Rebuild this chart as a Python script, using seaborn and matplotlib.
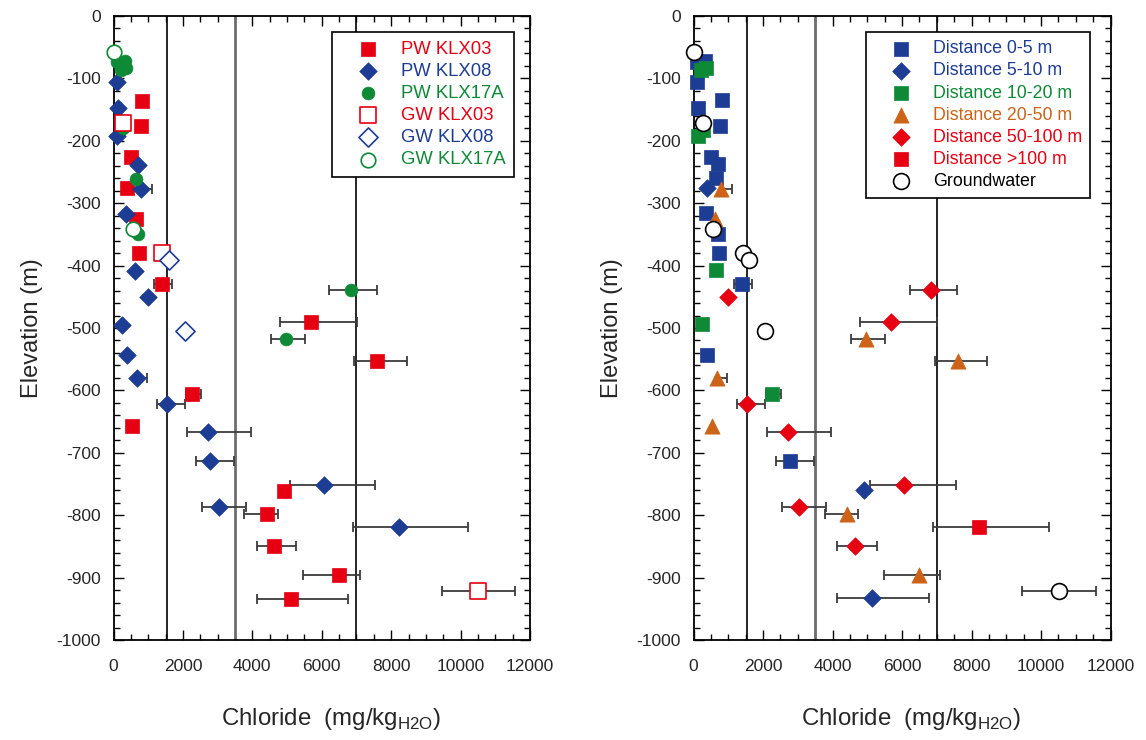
import numpy as np
import pandas as pd
import matplotlib
matplotlib.use("Agg")
import matplotlib.pyplot as plt
from matplotlib.ticker import MultipleLocator
import seaborn as sns

# ---------------- data (Chloride mg/kg, Elevation m) ----------------
# Left panel: by borehole
pw_klx03_x = [830, 780, 505, 380, 640, 745, 1390, 5680, 7600, 2270, 525, 4900, 4410, 4635, 6490, 5125]
pw_klx03_y = [-136, -177, -226, -276, -325, -380, -430, -490, -553, -605, -657, -761, -798, -850, -896, -934]
pw_klx03_lo = [np.nan, np.nan, np.nan, np.nan, np.nan, np.nan, 1175, 4800, 6940, 2080, np.nan, np.nan, 3770, 4140, 5470, 4140]
pw_klx03_hi = [np.nan, np.nan, np.nan, np.nan, np.nan, np.nan, 1677, 7010, 8450, 2520, np.nan, np.nan, 4730, 5268, 7095, 6765]

pw_klx08_x = [110, 140, 110, 715, 785, 360, 620, 1000, 255, 400, 690, 1540, 2720, 2770, 6065, 3040, 8220]
pw_klx08_y = [-105, -148, -193, -238, -277, -317, -408, -450, -495, -544, -580, -622, -666, -713, -752, -787, -819]
pw_klx08_lo = [np.nan, np.nan, np.nan, np.nan, 785, np.nan, np.nan, np.nan, np.nan, np.nan, 690, 1245, 2110, 2370, 5090, 2550, 6890]
pw_klx08_hi = [np.nan, np.nan, np.nan, np.nan, 1118, np.nan, np.nan, np.nan, np.nan, np.nan, 975, 2060, 3960, 3480, 7540, 3810, 10220]

pw_klx17a_x = [90, 330, 207, 360, 283, 640, 715, 6830, 4970]
pw_klx17a_y = [-73, -72, -87, -84, -180, -262, -350, -439, -518]
pw_klx17a_lo = [np.nan, np.nan, np.nan, np.nan, np.nan, np.nan, np.nan, 6220, 4530]
pw_klx17a_hi = [np.nan, np.nan, np.nan, np.nan, np.nan, np.nan, np.nan, 7585, 5520]

gw_klx03_x = [265, 1400, 10510]
gw_klx03_y = [-171, -380, -922]
gw_klx03_lo = [np.nan, np.nan, 9460]
gw_klx03_hi = [np.nan, np.nan, 11570]

gw_klx08_x = [1600, 2060]
gw_klx08_y = [-391, -505]

gw_klx17a_x = [25, 570]
gw_klx17a_y = [-57, -342]

# Right panel: by distance
d0_5_x = [90, 330, 110, 830, 140, 765, 505, 715, 640, 360, 715, 745, 1390, 400, 2770]
d0_5_y = [-73, -72, -105, -135, -148, -177, -226, -237, -260, -316, -350, -380, -430, -544, -713]
d0_5_lo = [np.nan] * 12 + [1175, np.nan, 2370]
d0_5_hi = [np.nan] * 12 + [1677, np.nan, 3480]

d5_10_x = [380, 4900, 5125]
d5_10_y = [-276, -760, -933]
d5_10_lo = [np.nan, np.nan, 4140]
d5_10_hi = [np.nan, np.nan, 6765]

d10_20_x = [207, 360, 130, 283, 640, 255, 2270]
d10_20_y = [-87, -84, -192, -183, -407, -494, -605]
d10_20_lo = [np.nan] * 6 + [2080]
d10_20_hi = [np.nan] * 6 + [2520]

d20_50_x = [785, 615, 690, 525, 4970, 7600, 4410, 6490]
d20_50_y = [-277, -325, -580, -657, -518, -553, -798, -896]
d20_50_lo = [785, np.nan, 690, np.nan, 4530, 6940, 3770, 5470]
d20_50_hi = [1118, np.nan, 975, np.nan, 5520, 8450, 4730, 7095]

d50_100_x = [1000, 6830, 5680, 1540, 2720, 6065, 3040, 4635]
d50_100_y = [-450, -439, -490, -622, -666, -752, -787, -850]
d50_100_lo = [np.nan, 6220, 4800, 1245, 2110, 5090, 2550, 4140]
d50_100_hi = [np.nan, 7585, 7010, 2060, 3960, 7540, 3810, 5268]

d100_x = [8220]
d100_y = [-819]
d100_lo = [6890]
d100_hi = [10220]

gw_x = [25, 265, 570, 1415, 1595, 2060, 10510]
gw_y = [-57, -171, -342, -380, -391, -505, -922]
gw_lo = [np.nan] * 6 + [9460]
gw_hi = [np.nan] * 6 + [11570]

ref_lines = [1530, 3500, 7000]

RED = "#E60012"
BLUE = "#1D3C94"
GREEN = "#0E8A37"
ORANGE = "#CC6318"

# ---------------- style ----------------
sns.set_style("ticks")
plt.rcParams["font.family"] = ["Liberation Sans", "DejaVu Sans"]
plt.rcParams["mathtext.fontset"] = "custom"
plt.rcParams["mathtext.rm"] = "Liberation Sans"
plt.rcParams["axes.unicode_minus"] = False

fig = plt.figure(figsize=(11.46, 7.40), dpi=100)
axL = fig.add_axes([113.5 / 1146, 1 - 640 / 740, 416.5 / 1146, 624 / 740])
axR = fig.add_axes([693.5 / 1146, 1 - 640 / 740, 417 / 1146, 624 / 740])


def errbars(ax, x, y, lo, hi):
    x = np.asarray(x, float); y = np.asarray(y, float)
    lo = np.asarray(lo, float); hi = np.asarray(hi, float)
    m = ~np.isnan(lo)
    if m.any():
        ax.errorbar(x[m], y[m], xerr=[x[m] - lo[m], hi[m] - x[m]], fmt="none",
                    ecolor="#3c3c3c", elinewidth=1.3, capsize=3.5, capthick=1.3, zorder=2)


def pts(ax, x, y, marker, size, color, label, filled=True, z=3):
    df = pd.DataFrame({"x": x, "y": y})
    if filled:
        sns.scatterplot(data=df, x="x", y="y", marker=marker, s=size, color=color,
                        edgecolor=color, linewidth=0.5, ax=ax, label=label, zorder=z,
                        clip_on=False)
    else:
        sns.scatterplot(data=df, x="x", y="y", marker=marker, s=size, facecolor="white",
                        edgecolor=color, linewidth=1.2, ax=ax, label=label, zorder=z,
                        clip_on=False)


def style_axes(ax):
    for v, c, lw in zip(ref_lines, ["black", "#6e6e6e", "black"], [1.2, 2.0, 1.2]):
        ax.axvline(v, color=c, lw=lw, zorder=1)
    ax.set_xlim(0, 12000)
    ax.set_ylim(-1000, 0)
    ax.xaxis.set_major_locator(MultipleLocator(2000))
    ax.xaxis.set_minor_locator(MultipleLocator(500))
    ax.yaxis.set_major_locator(MultipleLocator(100))
    ax.yaxis.set_minor_locator(MultipleLocator(20))
    ax.tick_params(which="both", direction="in", top=True, right=True, width=1.0, color="black")
    ax.tick_params(which="major", length=7, labelsize=12.5)
    ax.tick_params(axis="x", which="major", pad=14)
    ax.tick_params(axis="y", which="major", pad=9)
    ax.tick_params(which="minor", length=4)
    for s in ax.spines.values():
        s.set_visible(True)
        s.set_linewidth(1.3)
        s.set_color("black")
    ax.set_xlabel("Chloride  (mg/kg$_{\\mathregular{H2O}}$)", fontsize=17.3)
    ax.xaxis.set_label_coords(0.522, -0.106)
    ax.set_ylabel("Elevation (m)", fontsize=17, labelpad=10)


def legend(ax, x0, fs, spacing, colors):
    leg = ax.legend(loc="upper left", bbox_to_anchor=(x0, 0.974), fontsize=fs,
                    frameon=True, fancybox=False, edgecolor="black", framealpha=1,
                    borderpad=0.45, labelspacing=spacing, handletextpad=0.3,
                    borderaxespad=0, handlelength=3.0)
    leg.get_frame().set_linewidth(1.2)
    for t, c in zip(leg.get_texts(), colors):
        t.set_color(c)
    return leg


# ---- left panel ----
errbars(axL, pw_klx03_x, pw_klx03_y, pw_klx03_lo, pw_klx03_hi)
errbars(axL, pw_klx08_x, pw_klx08_y, pw_klx08_lo, pw_klx08_hi)
errbars(axL, pw_klx17a_x, pw_klx17a_y, pw_klx17a_lo, pw_klx17a_hi)
errbars(axL, gw_klx03_x, gw_klx03_y, gw_klx03_lo, gw_klx03_hi)
pts(axL, pw_klx03_x, pw_klx03_y, "s", 95, RED, "PW KLX03")
pts(axL, pw_klx08_x, pw_klx08_y, "D", 80, BLUE, "PW KLX08")
pts(axL, pw_klx17a_x, pw_klx17a_y, "o", 85, GREEN, "PW KLX17A")
pts(axL, gw_klx03_x, gw_klx03_y, "s", 125, RED, "GW KLX03", filled=False, z=4)
pts(axL, gw_klx08_x, gw_klx08_y, "D", 95, BLUE, "GW KLX08", filled=False, z=4)
pts(axL, gw_klx17a_x, gw_klx17a_y, "o", 110, GREEN, "GW KLX17A", filled=False, z=4)
style_axes(axL)
legend(axL, 0.524, 13.3, 0.28, [RED, BLUE, GREEN, RED, BLUE, GREEN])

# ---- right panel ----
errbars(axR, d0_5_x, d0_5_y, d0_5_lo, d0_5_hi)
errbars(axR, d5_10_x, d5_10_y, d5_10_lo, d5_10_hi)
errbars(axR, d10_20_x, d10_20_y, d10_20_lo, d10_20_hi)
errbars(axR, d20_50_x, d20_50_y, d20_50_lo, d20_50_hi)
errbars(axR, d50_100_x, d50_100_y, d50_100_lo, d50_100_hi)
errbars(axR, d100_x, d100_y, d100_lo, d100_hi)
errbars(axR, gw_x, gw_y, gw_lo, gw_hi)
pts(axR, d0_5_x, d0_5_y, "s", 95, BLUE, "Distance 0-5 m")
pts(axR, d5_10_x, d5_10_y, "D", 80, BLUE, "Distance 5-10 m")
pts(axR, d10_20_x, d10_20_y, "s", 95, GREEN, "Distance 10-20 m")
pts(axR, d20_50_x, d20_50_y, "^", 120, ORANGE, "Distance 20-50 m")
pts(axR, d50_100_x, d50_100_y, "D", 80, RED, "Distance 50-100 m")
pts(axR, d100_x, d100_y, "s", 95, RED, "Distance >100 m")
pts(axR, gw_x, gw_y, "o", 130, "black", "Groundwater", filled=False, z=4)
style_axes(axR)
legend(axR, 0.4137, 12.8, 0.29, [BLUE, BLUE, GREEN, ORANGE, RED, RED, "black"])

fig.savefig("out.png", dpi=100)
